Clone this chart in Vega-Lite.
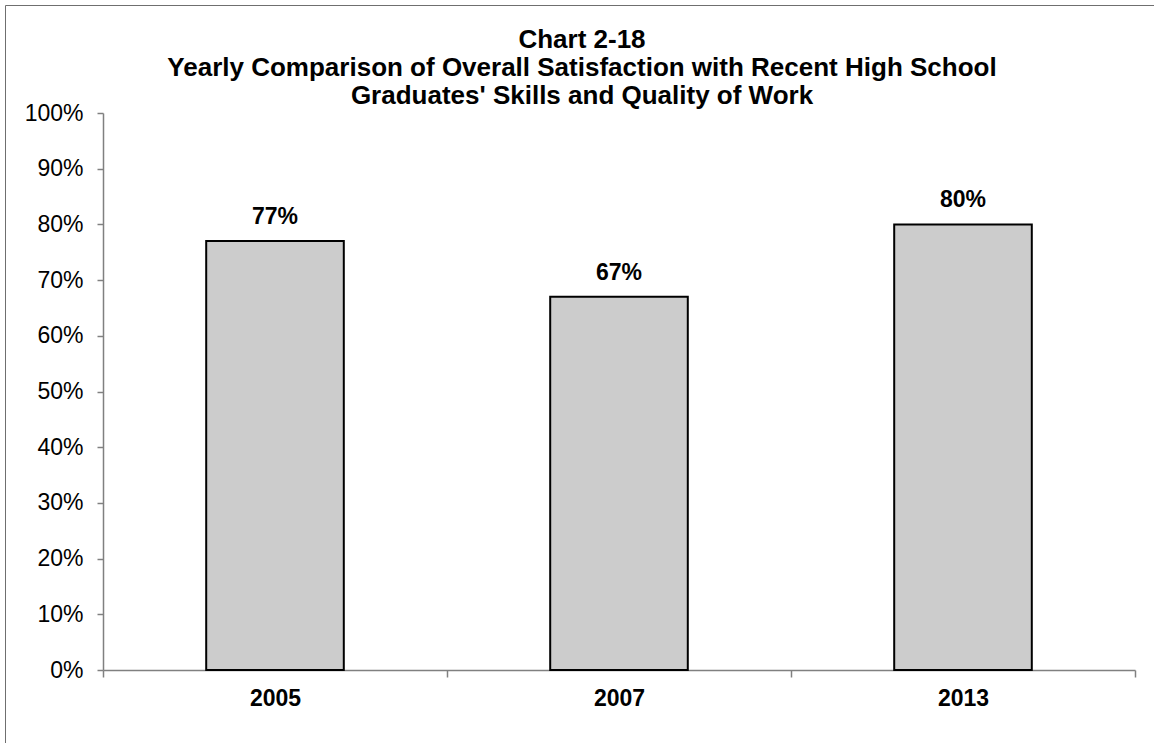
{
  "$schema": "https://vega.github.io/schema/vega-lite/v6.json",
  "width": 1154,
  "height": 743,
  "autosize": "none",
  "padding": {"left": 5, "top": 5, "right": -5, "bottom": -5},
  "background": "white",
  "title": {
    "text": [
      "Chart 2-18",
      "Yearly Comparison of Overall Satisfaction with Recent High School",
      "Graduates' Skills and Quality of Work"
    ],
    "font": "Liberation Sans",
    "fontSize": 26,
    "fontWeight": "bold",
    "lineHeight": 28,
    "color": "black",
    "anchor": "middle",
    "frame": "group",
    "offset": -104
  },
  "data": {
    "values": [
      {"year": "2005", "share": 0.77},
      {"year": "2007", "share": 0.67},
      {"year": "2013", "share": 0.80}
    ]
  },
  "encoding": {
    "x": {
      "field": "year",
      "type": "nominal",
      "sort": null,
      "scale": {"range": [98, 1130], "paddingInner": 0, "paddingOuter": 0},
      "axis": {
        "title": null,
        "orient": "bottom",
        "offset": -78,
        "labelAngle": 0,
        "labelFont": "Liberation Sans",
        "labelFontSize": 23,
        "labelFontWeight": "bold",
        "labelColor": "black",
        "labelPadding": 10,
        "domainColor": "#808080",
        "domainWidth": 1.5,
        "tickColor": "#808080",
        "tickWidth": 1.5,
        "tickSize": 7,
        "tickBand": "extent",
        "grid": false
      }
    },
    "y": {
      "field": "share",
      "type": "quantitative",
      "scale": {"domain": [0, 1], "range": [665, 108], "nice": false},
      "axis": {
        "title": null,
        "orient": "left",
        "offset": -98,
        "values": [0, 0.1, 0.2, 0.3, 0.4, 0.5, 0.6, 0.7, 0.8, 0.9, 1],
        "format": ".0%",
        "labelFont": "Liberation Sans",
        "labelFontSize": 23,
        "labelColor": "black",
        "labelPadding": 14,
        "domainColor": "#808080",
        "domainWidth": 1.5,
        "tickColor": "#808080",
        "tickWidth": 1.5,
        "tickSize": 6,
        "grid": false
      }
    }
  },
  "layer": [
    {
      "mark": {
        "type": "bar",
        "width": {"band": 0.4},
        "fill": "#cccccc",
        "stroke": "black",
        "strokeWidth": 2
      }
    },
    {
      "mark": {
        "type": "text",
        "baseline": "alphabetic",
        "dy": -17,
        "font": "Liberation Sans",
        "fontSize": 23,
        "fontWeight": "bold",
        "color": "black"
      },
      "encoding": {
        "text": {"field": "share", "type": "quantitative", "format": ".0%"}
      }
    }
  ],
  "config": {
    "view": {"stroke": "#6f6f6f", "strokeWidth": 1}
  }
}
